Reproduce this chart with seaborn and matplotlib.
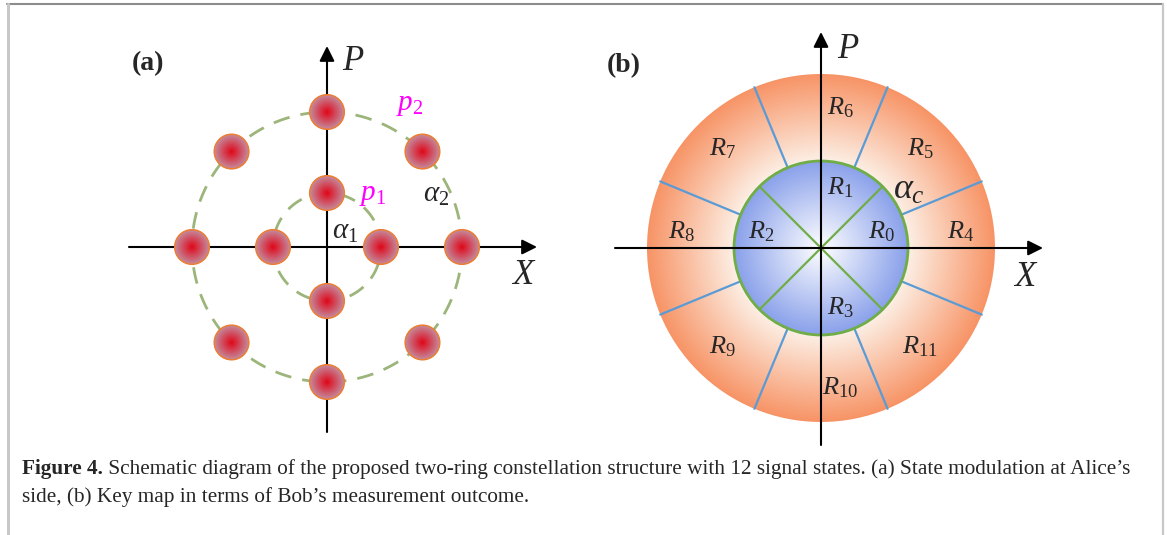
import numpy as np
import pandas as pd
import matplotlib
matplotlib.use("Agg")
import matplotlib.pyplot as plt
from matplotlib.patches import Circle
import seaborn as sns

# %% data
# (a) two-ring constellation: ring amplitudes and phases (degrees)
ring_amp = [54, 135]                      # alpha_1, alpha_2
inner_phase = [0, 90, 180, 270]
outer_phase = [0, 45, 90, 135, 180, 225, 270, 315]
ring_names = ["p_1", "p_2"]

# (b) key map regions
alpha_c = 87
outer_edge = 174
inner_regions = ["0", "1", "2", "3"]
inner_angle = [0, 90, 180, 270]
inner_bounds = [45, 135, 225, 315]
outer_regions = ["4", "5", "6", "7", "8", "9", "10", "11"]
outer_angle = [0, 45, 90, 135, 180, 225, 270, 315]
outer_bounds = [22.5, 67.5, 112.5, 157.5, 202.5, 247.5, 292.5, 337.5]

caption_bold = "Figure 4."
caption_line1 = (" Schematic diagram of the proposed two-ring constellation structure "
                 "with 12 signal states. (a) State modulation at Alice\u2019s")
caption_line2 = "side, (b) Key map in terms of Bob\u2019s measurement outcome."

# %% style
sns.set_style("white")
plt.rcParams["font.family"] = ["Liberation Serif", "DejaVu Serif"]
plt.rcParams["mathtext.fontset"] = "custom"
plt.rcParams["mathtext.rm"] = "Liberation Serif"
plt.rcParams["mathtext.it"] = "Liberation Serif:italic"
plt.rcParams["mathtext.bf"] = "Liberation Serif:bold"

W, H = 1167, 535
fig = plt.figure(figsize=(W / 100, H / 100), dpi=100)
bg = fig.add_axes([0, 0, 1, 1])
bg.set_xlim(0, W)
bg.set_ylim(H, 0)
bg.axis("off")

# page frame
bg.plot([7, 1163], [4, 4], color="#8c8c8c", lw=1.5)
bg.plot([8, 8], [4, H], color="#c8c8c8", lw=2.2)
bg.plot([1163, 1163], [4, H], color="#c8c8c8", lw=1.6)


def panel(cx, cy, x0, x1, y0, y1):
    ax = fig.add_axes([x0 / W, 1 - y1 / H, (x1 - x0) / W, (y1 - y0) / H])
    ax.axis("off")
    lims = ((x0 - cx, x1 - cx), (cy - y1, cy - y0))
    return ax, lims


def radial(ax, cx, cy, r0, r1, c0, c1, n=300, zorder=1):
    g = np.linspace(-r1, r1, n)
    xx, yy = np.meshgrid(g, g)
    t = np.clip((np.hypot(xx, yy) - r0) / (r1 - r0), 0, 1)[..., None]
    rgb = np.array(c0) * (1 - t) + np.array(c1) * t
    im = ax.imshow(rgb, extent=(cx - r1, cx + r1, cy - r1, cy + r1), origin="lower",
                   aspect="auto", zorder=zorder, interpolation="antialiased")
    im.set_clip_path(Circle((cx, cy), r1, transform=ax.transData))


def blob(ax, cx, cy, r1, c0, c1, steps=28, zorder=3):
    # radial shading built from concentric discs
    for k in range(steps):
        t = 1 - k / steps
        col = np.array(c0) * (1 - t) + np.array(c1) * t
        ax.add_patch(Circle((cx, cy), r1 * t, fc=col, ec="none", zorder=zorder))


def arrows(ax, xl, xr, yb, yt, z=5):
    kw = dict(arrowstyle="-|>,head_length=0.6,head_width=0.3", color="k", lw=1.5,
              mutation_scale=15, shrinkA=0, shrinkB=0)
    ax.annotate("", xy=(xr, 0), xytext=(xl, 0), arrowprops=kw, zorder=z)
    ax.annotate("", xy=(0, yt), xytext=(0, yb), arrowprops=kw, zorder=z)


def pol(r, deg):
    a = np.deg2rad(deg)
    return r * np.cos(a), r * np.sin(a)


# %% panel (a)
axa, lima = panel(327, 247, 100, 580, 20, 445)
th = np.linspace(0, 360, 721)
rings = pd.DataFrame({
    "x": np.concatenate([pol(r, th)[0] for r in ring_amp]),
    "y": np.concatenate([pol(r, th)[1] for r in ring_amp]),
    "ring": np.repeat(ring_names, len(th)),
})
sns.lineplot(data=rings, x="x", y="y", units="ring", estimator=None, sort=False,
             color="#9cb57a", lw=2, ls=(0, (6, 4)), ax=axa, legend=False, zorder=1)
arrows(axa, -198, 210, -185, 201, z=2)

states = pd.DataFrame(
    [(ring_amp[0], p) for p in inner_phase] + [(ring_amp[1], p) for p in outer_phase],
    columns=["amp", "phase"])
states["x"], states["y"] = pol(states["amp"].values, states["phase"].values)
for x, y in zip(states["x"], states["y"]):
    blob(axa, x, y, 17.5, (0.88, 0.02, 0.09), (0.77, 0.55, 0.62))
sns.scatterplot(data=states, x="x", y="y", s=620, facecolor="none",
                edgecolor="#ed7d31", linewidth=1.1, ax=axa, zorder=4, legend=False)

axa.text(26, 185, "P", fontsize=25, style="italic", ha="center", va="center")
axa.text(196, -28, "X", fontsize=25, style="italic", ha="center", va="center")
axa.text(83, 142, r"$p_\mathrm{2}$", fontsize=21, color="#ff00ff", ha="center", va="center")
axa.text(46, 52, r"$p_\mathrm{1}$", fontsize=21, color="#ff00ff", ha="center", va="center")
axa.text(109, 52, r"$\alpha_\mathrm{2}$", fontsize=21, ha="center", va="center")
axa.text(18, 15, r"$\alpha_\mathrm{1}$", fontsize=21, ha="center", va="center")
axa.set_xlim(*lima[0])
axa.set_ylim(*lima[1])

# %% panel (b)
axb, limb = panel(821, 248, 600, 1060, 15, 455)
radial(axb, 0, 0, alpha_c, outer_edge, (0.99, 0.94, 0.90), (0.97, 0.58, 0.40), zorder=1)
radial(axb, 0, 0, 0, alpha_c, (1.0, 1.0, 1.0), (0.54, 0.63, 0.92), zorder=2)
for b in outer_bounds:
    x0, y0 = pol(alpha_c, b)
    x1, y1 = pol(outer_edge, b)
    axb.plot([x0, x1], [y0, y1], color="#5b9bd5", lw=1.6, zorder=3)
for b in inner_bounds:
    x1, y1 = pol(alpha_c, b)
    axb.plot([0, x1], [0, y1], color="#70ad47", lw=1.6, zorder=3)
axb.add_patch(Circle((0, 0), alpha_c, fill=False, ec="#70ad47", lw=2, zorder=4))
arrows(axb, -206, 222, -197, 216, z=5)


def region_label(name, r, ang):
    x, y = pol(r, ang)
    if ang % 180 == 0:
        y += 16
    elif ang % 90 == 0:
        x += 19
    axb.text(x, y, r"$R_{\mathrm{%s}}$" % name, fontsize=19, ha="center", va="center", zorder=6)


for name, ang in zip(inner_regions, inner_angle):
    region_label(name, 60, ang)
for name, ang in zip(outer_regions, outer_angle):
    region_label(name, 140, ang)

axb.text(27, 198, "P", fontsize=25, style="italic", ha="center", va="center")
axb.text(204, -30, "X", fontsize=25, style="italic", ha="center", va="center")
axb.text(88, 58, r"$\alpha_c$", fontsize=26, ha="center", va="center", zorder=6)
axb.set_xlim(*limb[0])
axb.set_ylim(*limb[1])

# %% panel letters and caption
bg.text(148, 64, "(a)", fontsize=20, weight="bold", ha="center", va="center")
bg.text(624, 66, "(b)", fontsize=20, weight="bold", ha="center", va="center")

fs = 15.3
t0 = bg.text(22, 474, caption_bold, fontsize=fs, weight="bold", va="baseline")
fig.canvas.draw()
bb = t0.get_window_extent()
x_after = bb.x1 / fig.dpi * 100
bg.text(x_after, 474, caption_line1, fontsize=fs, va="baseline")
bg.text(22, 502, caption_line2, fontsize=fs, va="baseline")

fig.savefig("out.png", dpi=100)
